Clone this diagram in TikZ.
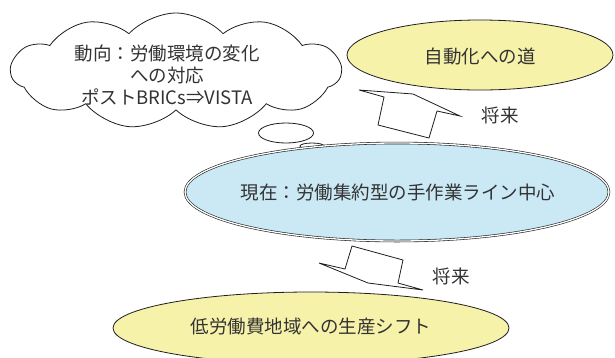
\documentclass[tikz,border=0pt]{standalone}
\usepackage{fontspec}
\setmainfont{Noto Sans CJK JP}
\usetikzlibrary{shapes.geometric,shapes.symbols}
\definecolor{textgray}{RGB}{51,51,51}
\definecolor{linecol}{RGB}{30,30,30}
\definecolor{paleyellow}{RGB}{247,242,170}
\definecolor{paleblue}{RGB}{202,233,245}
\begin{document}
\begin{tikzpicture}[x=1pt,y=-1pt,
  txt/.style={text=textgray, font=\fontsize{18.5}{22}\selectfont},
  outline/.style={draw=linecol, line width=0.8pt},
  oval/.style={ellipse, outline, inner sep=0pt},
  blockarrow/.style={draw=linecol, line width=0.8pt, line join=miter, fill=white}]
\useasboundingbox (0,0) rectangle (615,357);
\clip (0,0) rectangle (615,357);
% thought cloud
\node[cloud, cloud puffs=11, cloud puff arc=95, cloud ignores aspect, outline, fill=white,
      minimum width=330pt, minimum height=116pt, inner sep=0pt] (cloud) at (176,71) {};
\node[txt, align=center] (cloudtext) at (167,75) {動向：労働環境の変化\\への対応\\ポストBRICs⇒VISTA};
\node[oval, fill=white, minimum width=55pt, minimum height=20pt] (bubbleA) at (286,133) {};
\node[oval, fill=white, minimum width=24pt, minimum height=6pt] (bubbleB) at (312,146) {};
% ellipses
\node[oval, fill=paleyellow, minimum width=266pt, minimum height=70pt] (auto) at (480,55) {};
\node[txt] (autotext) at (480,56) {自動化への道};
\node[ellipse, draw=linecol, line width=0.6pt, double=white, double distance=1.3pt, fill=paleblue,
      minimum width=424pt, minimum height=98pt, inner sep=0pt] (now) at (397,192) {};
\node[txt] (nowtext) at (398,193) {現在：労働集約型の手作業ライン中心};
\node[oval, fill=paleyellow, minimum width=396pt, minimum height=72pt] (low) at (311,328) {};
\node[txt] (lowtext) at (311,327) {低労働費地域への生産シフト};
% block arrows
\draw[blockarrow] (359,90) -- (413,94) -- (460,116) -- (437,111) -- (429,138) -- (378,125) -- (384,97) -- cycle;
\draw[blockarrow] (319,263) -- (345,269) -- (352,246) -- (403,260) -- (398,283) -- (423,290) -- (368,283) -- cycle;
\node[txt] (fut1) at (500,115) {将来};
\node[txt] (fut2) at (451,276) {将来};
\end{tikzpicture}
\end{document}
